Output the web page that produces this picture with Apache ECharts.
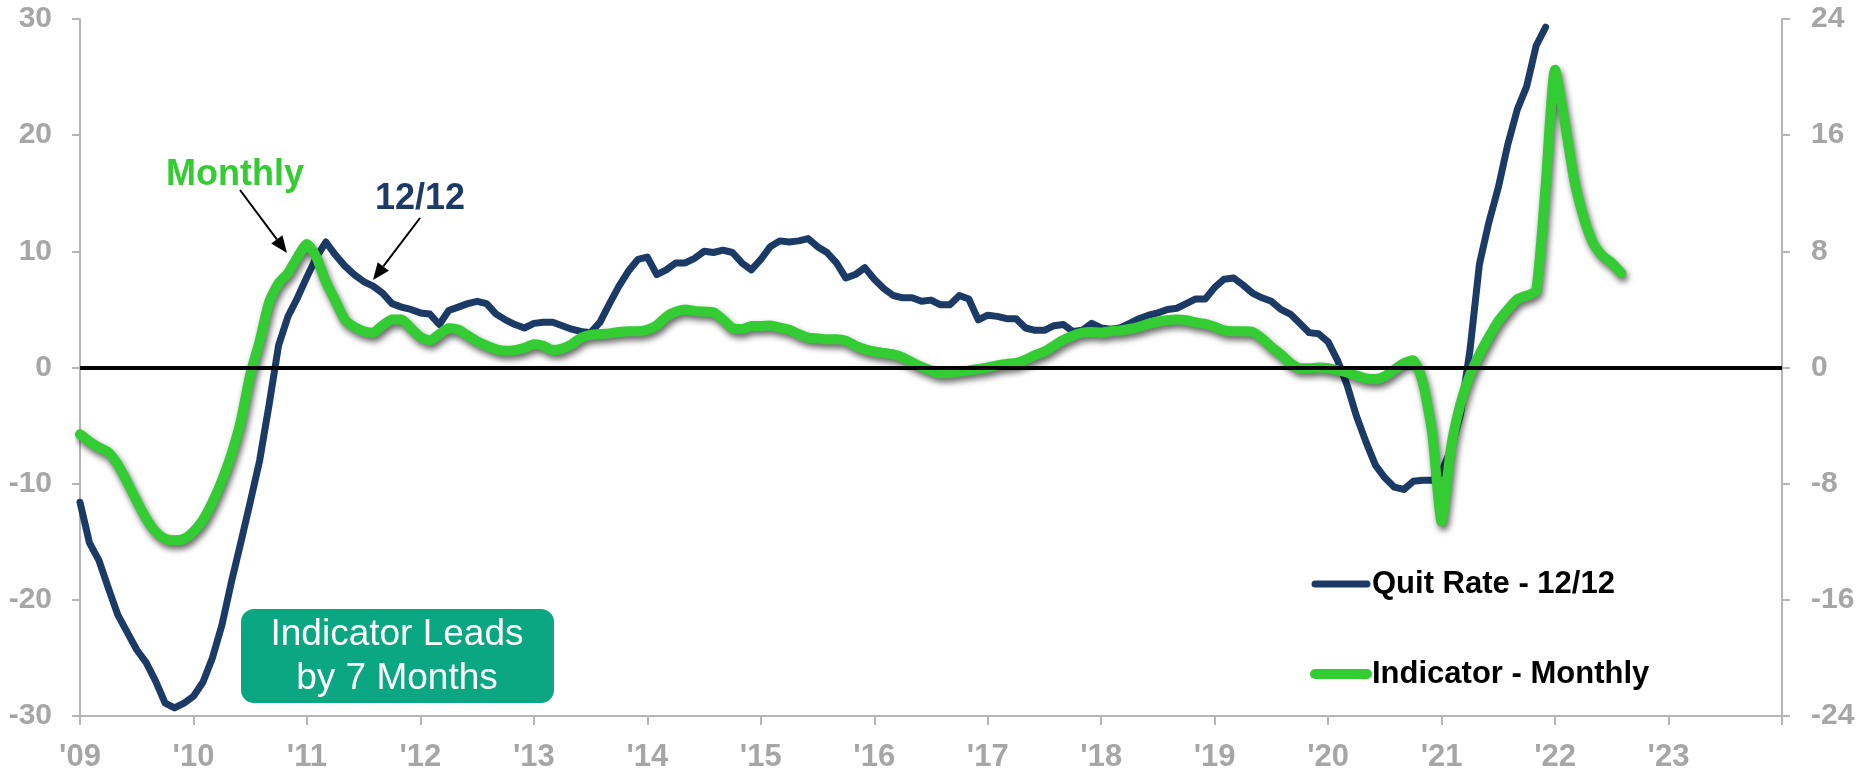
<!DOCTYPE html>
<html><head><meta charset="utf-8">
<script src="https://cdn.jsdelivr.net/npm/echarts@6/dist/echarts.min.js"></script>
<style>html,body{margin:0;padding:0;background:#fff}#c{width:1859px;height:768px}</style>
</head><body><div id="c"></div>
<script>
// ---- data ----
const startYear = 2009;
const monthCount = 181; // Jan 2009 .. Jan 2024
const yearTickLabels = ["'09","'10","'11","'12","'13","'14","'15","'16","'17","'18","'19","'20","'21","'22","'23",""];
const seriesNames = ["Quit Rate - 12/12", "Indicator - Monthly"];

// Quit Rate, 12/12 % change (left axis), monthly from Jan 2009
const quitRate = [
 -11.6,-15.1,-16.6,-19.0,-21.3,-22.8,-24.3,-25.4,-27.0,-28.9,
 -29.3,-28.9,-28.3,-27.1,-25.0,-22.2,-18.5,-15.1,-11.6,-8.0,
 -3.2,1.9,4.4,6.0,7.8,9.5,10.8,9.7,8.75,8.0,
 7.4,7.0,6.4,5.5,5.2,5.0,4.7,4.6,3.7,4.9,
 5.2,5.5,5.7,5.5,4.6,4.1,3.7,3.4,3.8,3.9,
 3.9,3.6,3.3,3.1,3.0,3.9,5.5,7.0,8.3,9.3,
 9.5,8.0,8.4,9.0,9.0,9.4,10.0,9.9,10.1,9.9,
 9.0,8.4,9.3,10.4,10.9,10.8,10.9,11.1,10.4,9.9,
 9.0,7.7,8.0,8.6,7.6,6.8,6.2,6.0,6.0,5.7,
 5.8,5.4,5.4,6.2,5.9,4.1,4.5,4.4,4.2,4.2,
 3.4,3.2,3.2,3.6,3.7,3.1,3.2,3.8,3.4,3.3,
 3.4,3.8,4.2,4.5,4.7,5.0,5.1,5.5,5.9,5.9,
 6.9,7.6,7.7,7.1,6.4,6.0,5.7,5.0,4.6,3.8,
 3.0,2.9,2.2,0.6,-1.5,-4.2,-6.4,-8.4,-9.5,-10.3,
 -10.5,-9.8,-9.7,-9.7,-9.0,-7.0,-4.0,1.5,8.9,12.5,
 15.5,19.2,22.2,24.2,27.7,29.3
];

// Indicator, monthly (right axis), monthly from Jan 2009
const indicator = [
 -4.6,-5.1,-5.5,-5.85,-6.7,-7.9,-9.2,-10.4,-11.3,-11.8,
 -11.9,-11.8,-11.3,-10.5,-9.3,-7.8,-6.0,-3.7,-0.5,1.8,
 4.5,5.8,6.5,7.6,8.5,7.6,5.9,4.6,3.3,2.8,
 2.5,2.4,2.9,3.3,3.3,2.7,2.1,1.85,2.3,2.7,
 2.6,2.2,1.8,1.5,1.25,1.15,1.2,1.35,1.6,1.5,
 1.2,1.3,1.6,2.05,2.25,2.3,2.35,2.45,2.5,2.5,
 2.6,2.9,3.5,3.85,4.0,3.9,3.85,3.8,3.3,2.7,
 2.65,2.85,2.85,2.9,2.75,2.6,2.3,2.05,2.0,1.95,
 1.95,1.85,1.5,1.25,1.1,1.0,0.9,0.7,0.35,0.05,
 -0.2,-0.4,-0.38,-0.28,-0.2,-0.1,0.0,0.15,0.25,0.32,
 0.55,0.85,1.1,1.5,1.9,2.2,2.4,2.45,2.4,2.5,
 2.55,2.65,2.8,3.0,3.15,3.25,3.3,3.25,3.1,3.0,
 2.8,2.55,2.5,2.5,2.45,2.0,1.4,0.9,0.3,-0.05,
 -0.05,0.0,-0.05,-0.2,-0.35,-0.55,-0.75,-0.8,-0.6,-0.15,
 0.3,0.5,-1.0,-4.5,-10.6,-5.5,-2.5,-0.5,0.9,2.1,
 3.2,4.0,4.7,4.95,5.3,12.5,20.5,17.0,13.0,10.4,
 8.6,7.7,7.2,6.5
];

// ---- build ----
const months = [];
for (let i = 0; i < monthCount; i++) {
  const y = startYear + Math.floor(i / 12);
  months.push(y + '-' + String(i % 12 + 1).padStart(2, '0'));
}
const NAVY = '#1b3a66', GREEN = '#33cc33', GRAY = '#a6a6a6', AXIS = '#b5b5b5';
const FONT = 'Liberation Sans, Arial, Helvetica, sans-serif';

function arrow(x1, y1, x2, y2) {
  const dx = x2 - x1, dy = y2 - y1, L = Math.hypot(dx, dy);
  const ux = dx / L, uy = dy / L, hl = 17, hw = 7;
  const bx = x2 - ux * hl, by = y2 - uy * hl;
  return [
    { type: 'line', shape: { x1, y1, x2: bx, y2: by }, style: { stroke: '#000', lineWidth: 2 }, z: 20 },
    { type: 'polygon', shape: { points: [[x2, y2], [bx - uy * hw, by + ux * hw], [bx + uy * hw, by - ux * hw]] }, style: { fill: '#000' }, z: 20 }
  ];
}

const chart = echarts.init(document.getElementById('c'), null, { renderer: 'canvas' });
const axisLabelY = { color: GRAY, fontWeight: 'bold', fontSize: 30, fontFamily: FONT };
chart.setOption({
  animation: false,
  backgroundColor: '#fff',
  grid: { left: 80, right: 77, top: 19, bottom: 52, containLabel: false, outerBoundsMode: 'none' },
  xAxis: {
    type: 'category', data: months, boundaryGap: false,
    axisLine: { onZero: false, lineStyle: { color: AXIS, width: 2 } },
    axisTick: { interval: 11, length: 9, lineStyle: { color: AXIS, width: 2 } },
    axisLabel: {
      interval: 11, margin: 26, color: GRAY, fontWeight: 'bold', fontSize: 31, fontFamily: FONT,
      formatter: (v, idx) => yearTickLabels[Math.round(idx / 12)] || ''
    },
    splitLine: { show: false }
  },
  yAxis: [
    { type: 'value', min: -30, max: 30, interval: 10, position: 'left',
      axisLine: { show: true, lineStyle: { color: AXIS, width: 2 } },
      axisTick: { show: true, length: 8, lineStyle: { color: AXIS, width: 2 } },
      axisLabel: Object.assign({ margin: 28 }, axisLabelY),
      splitLine: { show: false } },
    { type: 'value', min: -24, max: 24, interval: 8, position: 'right',
      axisLine: { show: true, lineStyle: { color: AXIS, width: 2 } },
      axisTick: { show: true, length: 8, lineStyle: { color: AXIS, width: 2 } },
      axisLabel: Object.assign({ margin: 29 }, axisLabelY),
      splitLine: { show: false } }
  ],
  legend: {
    orient: 'vertical', left: 1310, top: 566, padding: 0, itemWidth: 52, itemHeight: 14, itemGap: 54,
    textStyle: { color: '#000', fontWeight: 'bold', fontSize: 31, fontFamily: FONT, lineHeight: 36 },
    data: [
      { name: seriesNames[0], lineStyle: { width: 7, color: NAVY, cap: 'round' },
        itemStyle: { color: 'rgba(0,0,0,0)', borderWidth: 0, opacity: 0 } },
      { name: seriesNames[1], lineStyle: { width: 10, color: GREEN, cap: 'round', shadowBlur: 0, shadowOffsetX: 0, shadowOffsetY: 0 },
        itemStyle: { color: 'rgba(0,0,0,0)', borderWidth: 0, opacity: 0 } }
    ],
    selectedMode: false
  },
  series: [
    { name: 'zero', type: 'line', data: [], z: 1, silent: true,
      markLine: { silent: true, symbol: ['none', 'none'], label: { show: false },
        lineStyle: { color: '#000', width: 4, type: 'solid' }, data: [{ yAxis: 0 }] } },
    { name: seriesNames[0], type: 'line', yAxisIndex: 0, data: quitRate, symbol: 'none', z: 3,
      lineStyle: { color: NAVY, width: 7, join: 'round', cap: 'round' }, itemStyle: { color: NAVY } },
    { name: seriesNames[1], type: 'line', yAxisIndex: 1, data: indicator, symbol: 'none', z: 4, smooth: 0.2,
      lineStyle: { color: GREEN, width: 10, join: 'round', cap: 'round',
        shadowColor: 'rgba(0,0,0,0.6)', shadowBlur: 6, shadowOffsetX: 2, shadowOffsetY: 4 },
      itemStyle: { color: GREEN } }
  ],
  graphic: [
    { type: 'text', x: 235, y: 175, z: 20, style: { text: 'Monthly', fill: GREEN, font: 'bold 36px ' + FONT, textAlign: 'center', textVerticalAlign: 'middle' } },
    { type: 'text', x: 420, y: 199, z: 20, style: { text: '12/12', fill: NAVY, font: 'bold 36px ' + FONT, textAlign: 'center', textVerticalAlign: 'middle' } },
    ...arrow(240, 190, 287, 253),
    ...arrow(420, 218, 373, 280),
    { type: 'rect', z: 20, shape: { x: 241, y: 609, width: 313, height: 94, r: 13 }, style: { fill: '#0aa782' } },
    { type: 'text', x: 397, y: 635, z: 21, style: { text: 'Indicator Leads', fill: '#fff', font: '37px ' + FONT, textAlign: 'center', textVerticalAlign: 'middle' } },
    { type: 'text', x: 397, y: 679, z: 21, style: { text: 'by 7 Months', fill: '#fff', font: '37px ' + FONT, textAlign: 'center', textVerticalAlign: 'middle' } }
  ]
});
</script>
</body></html>
